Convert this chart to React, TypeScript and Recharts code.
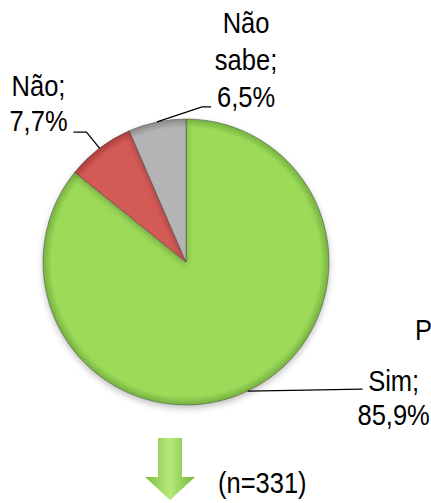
import React from "react";
import { PieChart, Pie, Cell, Customized } from "recharts";

const categories = ["Sim", "Não", "Não sabe"];
const values = [85.9, 7.7, 6.5];
const sampleNote = "(n=331)";
const strayTitle = "P";

const sliceColors = ["#9BDB59", "#D45A56", "#B4B4B4"];
const rimColors = ["#76B040", "#A83E3B", "#8A8A8A"];

const FONT = "'Liberation Sans', Arimo, Arial, sans-serif";
const FS = 29;
const NARROW = 0.88;

const data = categories.map((name, i) => ({ name, value: values[i] }));

// label layout, offsets relative to the point on the arc at midAngle
const labelLayout = [
  { elbow: [115, -2], end: [115, -2], textX: 146, baselines: [0, 34] },
  { elbow: [-13, -16], end: [-26, -16], textX: -61, baselines: [-52, -17] },
  { elbow: [45, -15], end: [54, -15], textX: 89, baselines: [-89, -52, -15] },
];

const RAD = Math.PI / 180;

const fmt = (v: number) => v.toFixed(1).replace(".", ",") + "%";

const NText = ({ x, y, anchor = "middle", children }: any) => (
  <text
    transform={`translate(${x},${y}) scale(${NARROW},1)`}
    x={0}
    y={0}
    textAnchor={anchor}
    fontFamily={FONT}
    fontSize={FS}
    fill="#000"
  >
    {children}
  </text>
);

const renderLabel = (props: any) => {
  const { cx, cy, midAngle, outerRadius, index } = props;
  const px = cx + outerRadius * Math.cos(-midAngle * RAD);
  const py = cy + outerRadius * Math.sin(-midAngle * RAD);
  const L = labelLayout[index];
  const name = categories[index];
  const words = name.split(" ");
  const lines = [...words.slice(0, -1), words[words.length - 1] + ";", fmt(values[index])];
  return (
    <g key={"lbl" + index}>
      <polyline
        points={`${px},${py} ${px + L.elbow[0]},${py + L.elbow[1]} ${px + L.end[0]},${py + L.end[1]}`}
        fill="none"
        stroke="#000"
        strokeWidth={1.3}
      />
      {lines.map((t, j) => (
        <NText key={j} x={px + L.textX} y={py + L.baselines[j]}>
          {t}
        </NText>
      ))}
    </g>
  );
};

const CX = 186;
const CY = 262;
const R = 143;

const Extras = () => (
  <g>
    <defs>
      <linearGradient id="arrowGrad" x1="0" y1="0" x2="1" y2="0">
        <stop offset="0%" stopColor="#7DBE3F" />
        <stop offset="50%" stopColor="#B6EA7A" />
        <stop offset="100%" stopColor="#74B53A" />
      </linearGradient>
    </defs>
    <polygon
      points="158,438 182,438 182,477 195,477 170,500 145,477 158,477"
      fill="url(#arrowGrad)"
    />
    <NText x={218} y={493} anchor="start">
      {sampleNote}
    </NText>
    <NText x={415} y={340} anchor="start">
      {strayTitle}
    </NText>
  </g>
);

export default function App() {
  return (
    <div style={{ position: "absolute", left: 0, top: 0, width: 431, height: 503, background: "#fff" }}>
      <PieChart width={431} height={503} margin={{ top: 0, right: 0, bottom: 0, left: 0 }}>
        <defs>
          <filter id="pieShadow" x="-20%" y="-20%" width="140%" height="140%">
            <feDropShadow dx="0" dy="3" stdDeviation="3" floodColor="#000" floodOpacity="0.25" />
          </filter>
          {sliceColors.map((c, i) => (
            <radialGradient
              key={i}
              id={"sliceGrad" + i}
              gradientUnits="userSpaceOnUse"
              cx={CX}
              cy={CY}
              r={R}
            >
              <stop offset="0%" stopColor={c} />
              <stop offset="94%" stopColor={c} />
              <stop offset="100%" stopColor={rimColors[i]} />
            </radialGradient>
          ))}
        </defs>
        <Pie
          data={data}
          dataKey="value"
          nameKey="name"
          cx={CX}
          cy={CY}
          outerRadius={R}
          startAngle={90}
          endAngle={-270}
          isAnimationActive={false}
          label={renderLabel}
          labelLine={false}
          stroke="rgba(60,60,60,0.45)"
          strokeWidth={1}
          style={{ filter: "url(#pieShadow)" }}
        >
          {data.map((d, i) => (
            <Cell key={d.name} fill={`url(#sliceGrad${i})`} />
          ))}
        </Pie>
        <Customized component={Extras} />
      </PieChart>
    </div>
  );
}
